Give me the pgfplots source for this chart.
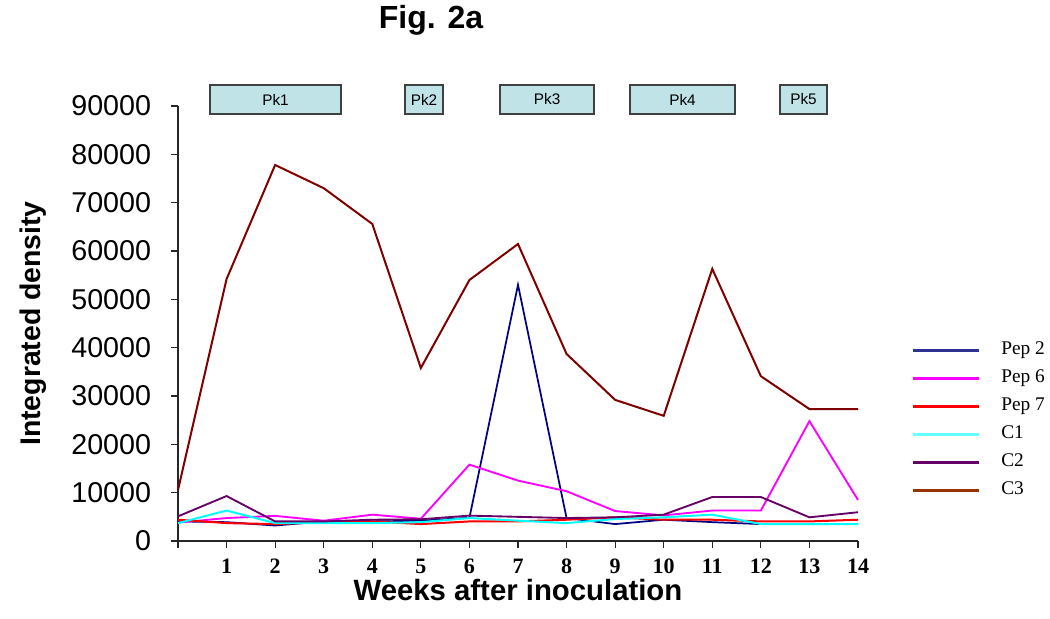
\documentclass[border=0pt]{standalone}
\usepackage{fontspec}
\setmainfont{Liberation Serif}
\setsansfont{Liberation Sans}
\usepackage{pgfplots}
\pgfplotsset{compat=1.18}

\definecolor{pepb}{HTML}{000080}
\definecolor{pepbleg}{HTML}{2E3192}
\definecolor{pepm}{HTML}{FF00FF}
\definecolor{pepr}{HTML}{FF0000}
\definecolor{cone}{HTML}{00FFFF}
\definecolor{coneleg}{HTML}{66FFFF}
\definecolor{ctwo}{HTML}{660066}
\definecolor{cthree}{HTML}{800000}
\definecolor{cthreeleg}{HTML}{993300}
\definecolor{boxfill}{HTML}{BFE3E6}
\definecolor{boxedge}{HTML}{404040}

\begin{document}
\begin{tikzpicture}
\path[use as bounding box] (-133.5pt,-57.75pt) rectangle (654pt,405.75pt);
\begin{axis}[
    at={(0,0)}, anchor=south west,
    scale only axis,
    width=510pt, height=326.25pt,
    xmin=0, xmax=14, ymin=0, ymax=90000,
    axis lines=left,
    axis line style={-, line width=0.9pt, black!85},
    clip=false,
    tick align=outside,
    major tick length=5.25pt,
    tick style={line width=0.8pt, black!85},
    xtick={0,...,14},
    xticklabels={,1,2,3,4,5,6,7,8,9,10,11,12,13,14},
    ytick={0,10000,...,90000},
    scaled y ticks=false,
    /pgf/number format/1000 sep={},
    /pgf/number format/assume math mode=true,
    yticklabel style={font=\sffamily\fontsize{21.5}{25}\selectfont, anchor=east, inner sep=0pt, xshift=-14.75pt},
    xticklabel style={font=\bfseries\fontsize{16.5}{18}\selectfont, anchor=north, inner sep=0pt, yshift=-8pt},
    xlabel={Weeks after inoculation},
    ylabel={Integrated density},
    xlabel style={font=\sffamily\bfseries\fontsize{22}{26}\selectfont, at={(axis description cs:0.5,-0.1126)}, anchor=center},
    ylabel style={font=\sffamily\bfseries\fontsize{21.3}{25}\selectfont, at={(axis description cs:-0.2132,0.5)}, anchor=center},
    legend style={at={(axis description cs:1.078,0.459)}, anchor=north west, draw=none, fill=none,
        inner sep=0pt, row sep=8pt, column sep=15.75pt,
        nodes={inner sep=0pt, text height=10pt, text depth=3pt, font=\fontsize{14.5}{16}\selectfont}},
    legend cell align=left,
    legend image code/.code={\draw[#1] (0pt,0pt) -- (49.5pt,0pt);},
]
% Pk boxes
\draw[draw=boxedge, fill=boxfill, line width=1.1pt] (axis cs:0.659,88350) rectangle (axis cs:3.357,94350);
\draw[draw=boxedge, fill=boxfill, line width=1.1pt] (axis cs:4.674,88350) rectangle (axis cs:5.456,94350);
\draw[draw=boxedge, fill=boxfill, line width=1.1pt] (axis cs:6.631,88350) rectangle (axis cs:8.567,94350);
\draw[draw=boxedge, fill=boxfill, line width=1.1pt] (axis cs:9.306,88350) rectangle (axis cs:11.468,94350);
\draw[draw=boxedge, fill=boxfill, line width=1.1pt] (axis cs:12.394,88350) rectangle (axis cs:13.362,94350);
\begin{scope}[every node/.style={font=\sffamily\fontsize{11.5}{13}\selectfont}]
\node at (axis cs:2.008,91350) {Pk1};
\node at (axis cs:5.065,91350) {Pk2};
\node at (axis cs:7.599,91350) {Pk3};
\node at (axis cs:10.387,91350) {Pk4};
\node at (axis cs:12.878,91350) {Pk5};
\end{scope}

% Pep 2
\addplot[pepb, line width=1.3pt, forget plot] coordinates {
(0,4050) (1,3900) (2,3200) (3,4050) (4,4050) (5,4200) (6,4800) (7,53000)
(8,4750) (9,3500) (10,4400) (11,3900) (12,3500) (13,3500) (14,3500)};
% Pep 6
\addplot[pepm, line width=1.4pt, forget plot] coordinates {
(0,3800) (1,4750) (2,5200) (3,4200) (4,5450) (5,4600) (6,15800) (7,12500)
(8,10300) (9,6200) (10,5300) (11,6300) (12,6300) (13,24800) (14,8500)};
% Pep 7
\addplot[pepr, line width=1.5pt, forget plot] coordinates {
(0,4400) (1,3700) (2,3500) (3,3900) (4,4050) (5,3500) (6,4050) (7,4050)
(8,4400) (9,4900) (10,4400) (11,4400) (12,4050) (13,4050) (14,4400)};
% C1
\addplot[cone, line width=1.5pt, forget plot] coordinates {
(0,3700) (1,6300) (2,3700) (3,3700) (4,3700) (5,3900) (6,4750) (7,4200)
(8,3700) (9,4550) (10,4900) (11,5450) (12,3500) (13,3500) (14,3500)};
% C2
\addplot[ctwo, line width=1.4pt, forget plot] coordinates {
(0,5100) (1,9300) (2,4050) (3,4050) (4,4400) (5,4500) (6,5250) (7,5000)
(8,4750) (9,4900) (10,5450) (11,9100) (12,9100) (13,4900) (14,5950)};
% C3
\addplot[cthree, line width=1.5pt, forget plot] coordinates {
(0,10550) (1,54200) (2,77800) (3,73000) (4,65600) (5,35800) (6,54000) (7,61450)
(8,38700) (9,29200) (10,25900) (11,56300) (12,34100) (13,27300) (14,27300)};

\addlegendimage{pepbleg, line width=2.25pt}
\addlegendentry{Pep 2}
\addlegendimage{pepm, line width=2.25pt}
\addlegendentry{Pep 6}
\addlegendimage{pepr, line width=2.25pt}
\addlegendentry{Pep 7}
\addlegendimage{coneleg, line width=2.25pt}
\addlegendentry{C1}
\addlegendimage{ctwo, line width=2.25pt}
\addlegendentry{C2}
\addlegendimage{cthreeleg, line width=2.25pt}
\addlegendentry{C3}
\end{axis}
\node[font=\sffamily\bfseries\fontsize{24}{28}\selectfont] at (189.75pt,390.75pt) {Fig. 2a};
\end{tikzpicture}
\end{document}
